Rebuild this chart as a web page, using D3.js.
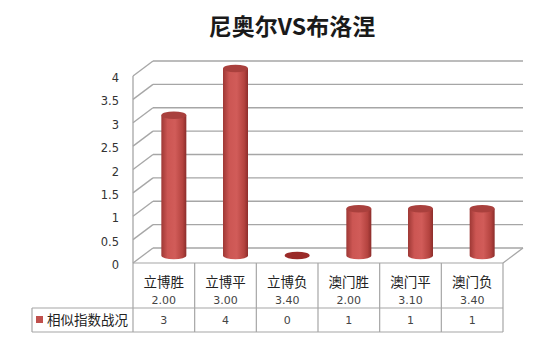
<!DOCTYPE html>
<html>
<head>
<meta charset="utf-8">
<style>
body { margin: 0; background: #fff; }
svg { font-family: "Noto Sans CJK SC", "DejaVu Sans", sans-serif; }
</style>
</head>
<body>
<svg width="550" height="340"></svg>
<script src="https://d3js.org/d3.v7.min.js"></script>
<script>

var title = "尼奥尔VS布洛涅";
var categories = ["立博胜", "立博平", "立博负", "澳门胜", "澳门平", "澳门负"];
var odds = ["2.00", "3.00", "3.40", "2.00", "3.10", "3.40"];
var seriesName = "相似指数战况";
var values = [3, 4, 0, 1, 1, 1];
var yTicks = [0, 0.5, 1, 1.5, 2, 2.5, 3, 3.5, 4];

var svg = d3.select("svg");

// 3d depth offset of the plot box
var dx = 20, dy = -15;

var x = d3.scaleBand()
    .domain(categories)
    .range([133, 503]);

var y = d3.scaleLinear()
    .domain([0, 4])
    .range([263, 76]);

var grid = "#a6a6a6";

// title
svg.append("text")
    .attr("x", 292)
    .attr("y", 35)
    .attr("text-anchor", "middle")
    .attr("font-size", "23px")
    .attr("font-weight", "bold")
    .attr("fill", "#1a1a1a")
    .text(title);

// back wall gridlines + left wall diagonals
var g = svg.append("g").attr("stroke", grid).attr("stroke-width", 1.3).attr("fill", "none");

g.selectAll(".back")
    .data(yTicks)
  .enter().append("line")
    .attr("x1", x.range()[0] + dx)
    .attr("x2", x.range()[1] + dx)
    .attr("y1", function(d) { return y(d) + dy; })
    .attr("y2", function(d) { return y(d) + dy; });

g.selectAll(".side")
    .data(yTicks)
  .enter().append("line")
    .attr("x1", x.range()[0])
    .attr("x2", x.range()[0] + dx)
    .attr("y1", function(d) { return y(d); })
    .attr("y2", function(d) { return y(d) + dy; });

// left wall front edge
g.append("line")
    .attr("x1", x.range()[0]).attr("x2", x.range()[0])
    .attr("y1", y(4)).attr("y2", y(0));

// floor right edge
g.append("line")
    .attr("x1", x.range()[1]).attr("x2", x.range()[1] + dx)
    .attr("y1", y(0)).attr("y2", y(0) + dy);

// y axis labels
svg.append("g")
    .selectAll("text")
    .data(yTicks)
  .enter().append("text")
    .attr("x", 119)
    .attr("y", function(d) { return y(d) + 6; })
    .attr("text-anchor", "end")
    .attr("font-family", "DejaVu Sans, sans-serif")
    .attr("font-size", "11.5px")
    .attr("fill", "#333")
    .text(function(d) { return d; });

// cylinder gradient
var defs = svg.append("defs");
var grad = defs.append("linearGradient")
    .attr("id", "cyl")
    .attr("x1", "0%").attr("x2", "100%").attr("y1", "0%").attr("y2", "0%");
grad.append("stop").attr("offset", "0%").attr("stop-color", "#9e3835");
grad.append("stop").attr("offset", "25%").attr("stop-color", "#cc5653");
grad.append("stop").attr("offset", "55%").attr("stop-color", "#d15c59");
grad.append("stop").attr("offset", "85%").attr("stop-color", "#b4433f");
grad.append("stop").attr("offset", "100%").attr("stop-color", "#8c2d2b");

var rx = 12.5, ry = 3.8;

var bars = svg.append("g")
    .selectAll("g")
    .data(values)
  .enter().append("g")
    .attr("transform", function(d, i) {
      return "translate(" + (x(categories[i]) + x.bandwidth() / 2 + dx / 2) + "," + (dy / 2) + ")";
    });

bars.filter(function(d) { return d > 0; })
  .append("path")
    .attr("fill", "url(#cyl)")
    .attr("d", function(d) {
      var top = y(d), base = y(0);
      return "M" + (-rx) + "," + top +
             "L" + (-rx) + "," + base +
             "A" + rx + "," + ry + " 0 0 0 " + rx + "," + base +
             "L" + rx + "," + top + "Z";
    });

bars.append("ellipse")
    .attr("cx", 0)
    .attr("cy", function(d) { return y(d); })
    .attr("rx", rx)
    .attr("ry", ry)
    .attr("fill", function(d) { return d > 0 ? "#a9403d" : "#9a2a28"; });

// data table
var t = svg.append("g").attr("stroke", grid).attr("stroke-width", 1.2);
var rowTop = y(0), rowMid = 308, rowBot = 332, legLeft = 32;

t.append("line").attr("x1", x.range()[0]).attr("x2", x.range()[1]).attr("y1", rowTop).attr("y2", rowTop);
t.append("line").attr("x1", legLeft).attr("x2", x.range()[1]).attr("y1", rowMid).attr("y2", rowMid);
t.append("line").attr("x1", legLeft).attr("x2", x.range()[1]).attr("y1", rowBot).attr("y2", rowBot);
t.append("line").attr("x1", legLeft).attr("x2", legLeft).attr("y1", rowMid).attr("y2", rowBot);

t.selectAll(".col")
    .data(categories.concat([null]))
  .enter().append("line")
    .attr("x1", function(d, i) { return x.range()[0] + i * x.bandwidth(); })
    .attr("x2", function(d, i) { return x.range()[0] + i * x.bandwidth(); })
    .attr("y1", rowTop)
    .attr("y2", rowBot);

var cells = svg.append("g")
    .selectAll("g")
    .data(categories)
  .enter().append("g")
    .attr("transform", function(d) { return "translate(" + (x(d) + x.bandwidth() / 2) + ",0)"; });

cells.append("text")
    .attr("y", 287)
    .attr("text-anchor", "middle")
    .attr("font-size", "13.5px")
    .attr("fill", "#222")
    .text(function(d) { return d; });

cells.append("text")
    .attr("y", 304)
    .attr("text-anchor", "middle")
    .attr("font-family", "DejaVu Sans, sans-serif")
    .attr("font-size", "11px")
    .attr("fill", "#444")
    .text(function(d, i) { return odds[i]; });

cells.append("text")
    .attr("y", 324)
    .attr("text-anchor", "middle")
    .attr("font-family", "DejaVu Sans, sans-serif")
    .attr("font-size", "11px")
    .attr("fill", "#444")
    .text(function(d, i) { return values[i]; });

// legend key
svg.append("rect")
    .attr("x", 36).attr("y", 316)
    .attr("width", 7).attr("height", 7)
    .attr("fill", "#c0504d");

svg.append("text")
    .attr("x", 47)
    .attr("y", 325)
    .attr("font-size", "13.5px")
    .attr("fill", "#222")
    .text(seriesName);

</script>
</body>
</html>
